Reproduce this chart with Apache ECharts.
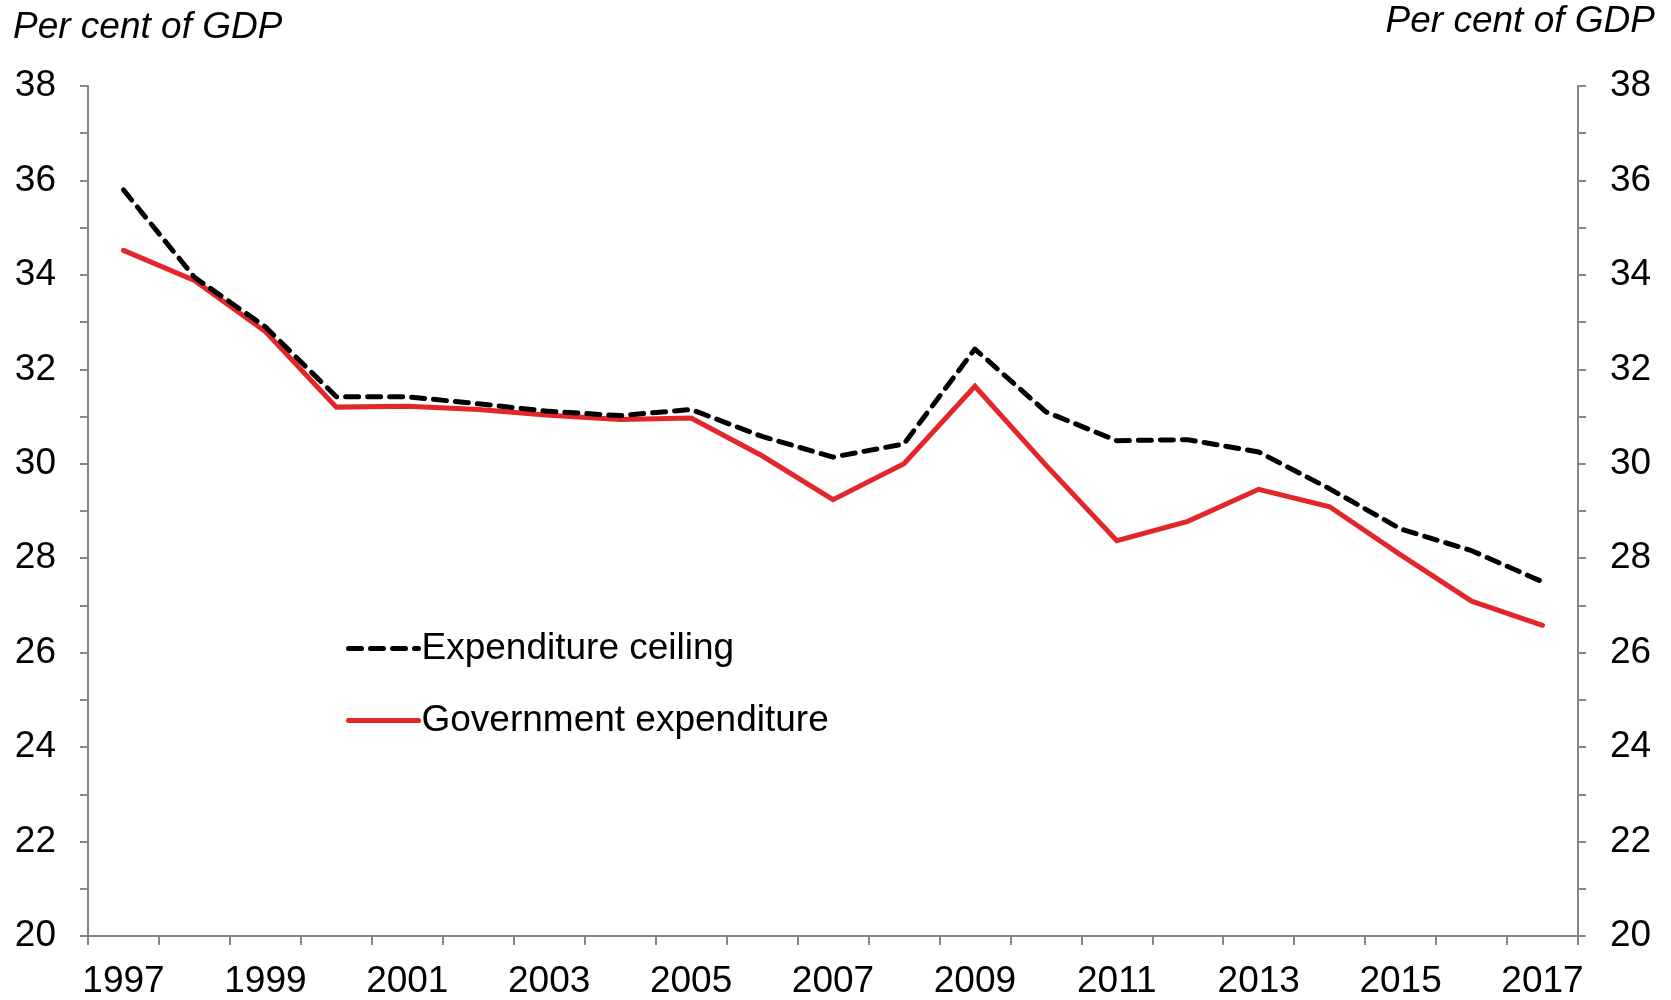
<!DOCTYPE html>
<html>
<head>
<meta charset="utf-8">
<title>Expenditure ceiling and government expenditure</title>
<script src="https://cdn.jsdelivr.net/npm/echarts@6/dist/echarts.min.js"></script>
<style>
  html, body { margin: 0; padding: 0; background: #ffffff; }
  #chart { width: 1671px; height: 1000px; }
</style>
</head>
<body>
<div id="chart"></div>
<script>
// Years on the horizontal axis
const years = ['1997','1998','1999','2000','2001','2002','2003','2004','2005','2006','2007',
               '2008','2009','2010','2011','2012','2013','2014','2015','2016','2017'];

// Per cent of GDP
const expenditureCeiling = [35.8, 33.95, 32.9, 31.42, 31.42, 31.27, 31.11, 31.02, 31.15, 30.58, 30.14,
                            30.42, 32.43, 31.1, 30.49, 30.51, 30.25, 29.47, 28.62, 28.16, 27.5];
const governmentExpenditure = [34.52, 33.88, 32.8, 31.2, 31.22, 31.15, 31.03, 30.94, 30.97, 30.17, 29.24,
                               30.0, 31.64, 29.97, 28.37, 28.78, 29.46, 29.09, 28.07, 27.09, 26.58];

const yTicks = { min: 20, max: 38, interval: 2 };
const axisTitle = 'Per cent of GDP';

const FONT = '"Liberation Sans", Arial, sans-serif';
const AXIS_GREY = '#868686';
const RED = '#e3262a';

const chart = echarts.init(document.getElementById('chart'), null, { renderer: 'canvas' });

function valueAxis(position) {
  return {
    type: 'value',
    position: position,
    min: yTicks.min,
    max: yTicks.max,
    interval: yTicks.interval,
    splitLine: { show: false },
    axisLine: { show: true, lineStyle: { color: AXIS_GREY, width: 2 } },
    axisTick: { show: true, inside: false, length: 8, lineStyle: { color: AXIS_GREY, width: 2 } },
    minorTick: { show: true, splitNumber: 2, length: 8, lineStyle: { color: AXIS_GREY, width: 2 } },
    axisLabel: { color: '#000', fontFamily: FONT, fontSize: 37, margin: 32 }
  };
}

chart.setOption({
  animation: false,
  backgroundColor: '#ffffff',
  grid: { left: 88, right: 93, top: 86, bottom: 61, containLabel: false },
  graphic: [
    {
      type: 'text', left: 13, top: 9,
      style: { text: axisTitle, fontFamily: FONT, fontSize: 37, fontStyle: 'italic', fill: '#000' }
    },
    {
      type: 'text', right: 16, top: 3,
      style: { text: axisTitle, fontFamily: FONT, fontSize: 37, fontStyle: 'italic', fill: '#000' }
    }
  ],
  legend: {
    orient: 'vertical',
    left: 341,
    top: 625,
    itemWidth: 70,
    itemHeight: 14,
    itemGap: 35,
    itemStyle: { opacity: 0 },
    lineStyle: { width: 5, cap: 'round' },
    textStyle: { color: '#000', fontFamily: FONT, fontSize: 37, padding: [0, 0, 0, -2] },
    data: ['Expenditure ceiling', 'Government expenditure']
  },
  xAxis: {
    type: 'category',
    data: years,
    boundaryGap: true,
    axisLine: { show: true, lineStyle: { color: AXIS_GREY, width: 2 } },
    axisTick: { show: true, inside: false, length: 9, interval: 0, lineStyle: { color: AXIS_GREY, width: 2 } },
    axisLabel: { interval: 1, color: '#000', fontFamily: FONT, fontSize: 37, margin: 27 },
    splitLine: { show: false }
  },
  yAxis: [valueAxis('left'), valueAxis('right')],
  series: [
    {
      name: 'Expenditure ceiling',
      type: 'line',
      data: expenditureCeiling,
      symbol: 'none',
      z: 3,
      lineStyle: { color: '#000', width: 5, type: [13, 9], cap: 'round', join: 'round' },
      itemStyle: { color: '#000' }
    },
    {
      name: 'Government expenditure',
      type: 'line',
      data: governmentExpenditure,
      symbol: 'none',
      z: 2,
      lineStyle: { color: RED, width: 5, cap: 'round', join: 'miter' },
      itemStyle: { color: RED }
    }
  ]
});
</script>
</body>
</html>
